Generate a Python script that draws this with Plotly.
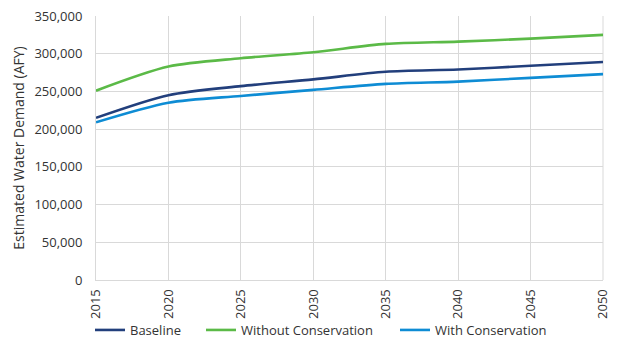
import plotly.graph_objects as go

years = [2015, 2020, 2025, 2030, 2035, 2040, 2045, 2050]
baseline = [215000, 245000, 257000, 266000, 276000, 279000, 284000, 289000]
without_conservation = [251000, 283000, 294000, 302000, 313000, 316000, 320000, 325000]
with_conservation = [209000, 235000, 244000, 252000, 260000, 263000, 268000, 273000]

W, H = 617, 339

series = [
    ("Baseline", baseline, "#223F7C", "legend", 90),
    ("Without Conservation", without_conservation, "#5BBA47", "legend2", 201),
    ("With Conservation", with_conservation, "#0E8CD4", "legend3", 395),
]

fig = go.Figure()
legends = {}
for name, vals, color, leg, lx in series:
    fig.add_trace(go.Scatter(
        x=years, y=vals, name=name, mode="lines", legend=leg,
        line=dict(color=color, width=2.6, shape="spline", smoothing=0.8),
    ))
    legends[leg] = dict(orientation="h", xref="container", x=lx / W, xanchor="left",
                        yref="container", y=9 / H, yanchor="middle",
                        bgcolor="rgba(0,0,0,0)",
                        font=dict(size=13, color="#333333"))

fig.update_layout(
    width=W, height=H,
    margin=dict(l=96, r=14, t=16, b=59, autoexpand=False),
    paper_bgcolor="white", plot_bgcolor="white",
    font=dict(family="Open Sans", size=13, color="#333333"),
    showlegend=True,
    **legends,
    xaxis=dict(
        range=[2015, 2050], tickvals=years, ticktext=[str(y) for y in years],
        tickangle=-90, showgrid=True, gridcolor="#D9D9D9", gridwidth=1,
        showline=True, linecolor="#D9D9D9", zeroline=False, mirror=False,
        ticks="", tickfont=dict(size=13, color="#333333"), automargin=False,
        ticklabelstandoff=3,
    ),
    yaxis=dict(
        range=[0, 350000], dtick=50000, tickformat=",",
        showgrid=True, gridcolor="#D9D9D9", gridwidth=1,
        showline=True, linecolor="#D9D9D9", zeroline=False,
        ticks="", tickfont=dict(size=13, color="#333333"), automargin=False,
        ticklabelstandoff=10,
        title=dict(text="Estimated Water Demand (AFY)", font=dict(size=14, color="#333333"),
                   standoff=6),
    ),
)
# right border of plot area
fig.add_shape(type="line", xref="paper", yref="paper", x0=1, x1=1, y0=0, y1=1,
              line=dict(color="#D9D9D9", width=1), layer="below")

fig.write_html("out.html")
